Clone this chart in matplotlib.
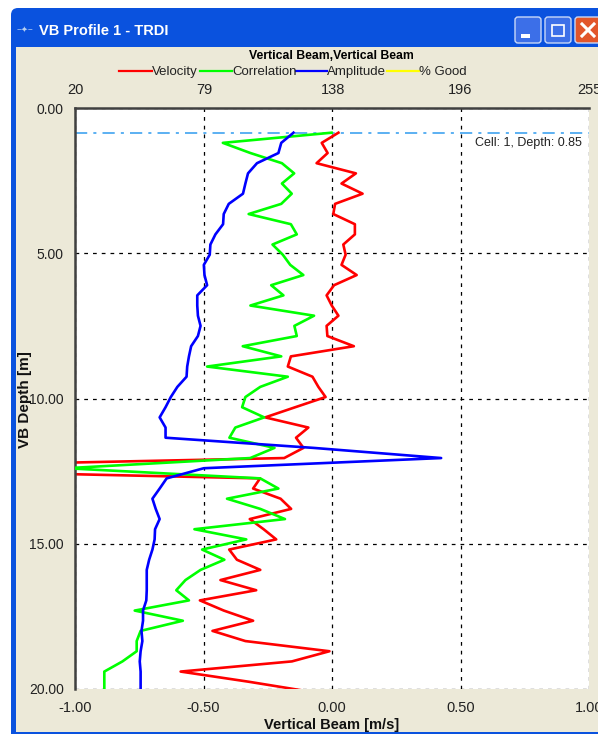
import matplotlib
matplotlib.use('Agg')
import matplotlib.pyplot as plt
from matplotlib.patches import FancyBboxPatch, Rectangle

plt.rcParams['font.family'] = ['Liberation Sans', 'DejaVu Sans']

# depth of each cell [m]
depth = [0.85, 1.20, 1.55, 1.90, 2.25, 2.60, 2.95, 3.30, 3.65, 4.00, 4.35, 4.70, 5.05, 5.40,
         5.75, 6.10, 6.45, 6.80, 7.15, 7.50, 7.85, 8.20, 8.55, 8.90, 9.25, 9.60, 9.95, 10.30,
         10.65, 11.00, 11.35, 11.70, 12.05, 12.40, 12.75, 13.10, 13.45, 13.80, 14.15, 14.50,
         14.85, 15.20, 15.55, 15.90, 16.25, 16.60, 16.95, 17.30, 17.65, 18.00, 18.35, 18.70,
         19.05, 19.40, 19.75, 20.10]

# m/s, bottom axis
velocity = [0.025, -0.04, -0.017, -0.06, 0.093, 0.037, 0.119, 0.012, 0.005, 0.089, 0.089, 0.044,
            0.053, 0.037, 0.096, 0.008, -0.021, -0.001, 0.025, -0.021, -0.018, 0.085, -0.16,
            -0.172, -0.076, -0.053, -0.025, -0.143, -0.26, -0.092, -0.14, -0.111, -0.186, -2.05,
            -0.28, -0.307, -0.2, -0.159, -0.32, -0.266, -0.217, -0.40, -0.37, -0.279, -0.434,
            -0.295, -0.514, -0.421, -0.307, -0.465, -0.337, -0.01, -0.156, -0.589, -0.324, -0.08]

# counts, top axis
correlation = [137.3, 87.6, 100.2, 114.6, 120.2, 114.6, 119.1, 114.3, 99.4, 118.7, 121.4, 110.3,
               115.0, 118.4, 124.4, 109.7, 115.3, 100.2, 129.3, 120.3, 121.4, 96.7, 114.3, 80.4,
               117.3, 104.7, 97.9, 96.4, 106.5, 93.3, 90.6, 111.2, 100.1, 16.0, 104.7, 113.0,
               89.5, 104.7, 116.0, 74.6, 98.3, 78.1, 88.3, 77.4, 70.5, 66.3, 72.1, 47.3, 69.3,
               50.0, 48.2, 48.2, 41.7, 33.4, 33.4, 33.4]

amplitude = [119.9, 114.3, 113.0, 103.2, 99.1, 97.9, 96.8, 90.3, 88.0, 87.7, 84.2, 81.9, 81.6,
             78.9, 79.2, 80.4, 75.9, 75.9, 76.2, 77.4, 76.2, 73.1, 72.1, 71.3, 71.0, 66.8, 63.8,
             61.4, 58.7, 61.4, 61.4, 129.0, 187.4, 78.9, 61.9, 58.7, 55.4, 56.9, 58.7, 56.6, 56.4,
             55.4, 53.9, 52.8, 52.8, 52.8, 52.6, 51.1, 51.1, 50.4, 50.8, 50.0, 49.6, 50.0, 50.0, 50.0]

x_ticks = [-1.0, -0.5, 0.0, 0.5, 1.0]
top_ticks = [20, 79, 138, 196, 255]
y_ticks = [0, 5, 10, 15, 20]
legend_names = ['Velocity', 'Correlation', 'Amplitude', '% Good']
legend_colors = ['#FF0000', '#00FF00', '#0000FF', '#FFFF00']

W, H = 598, 734
BEIGE = '#ECE9D8'
TXT = '#222222'
fig = plt.figure(figsize=(W / 100, H / 100), dpi=100, facecolor='white')

# window frame behind the chart
bg = fig.add_axes([0, 0, 1, 1], zorder=-1)
bg.set_xlim(0, W)
bg.set_ylim(H, 0)
bg.axis('off')
bg.add_patch(FancyBboxPatch((11, 8), 600, 740, boxstyle='round,pad=0,rounding_size=7', fc='#0A52DE', ec='none'))
bg.add_patch(Rectangle((16, 47), 590, 685, fc=BEIGE, ec='none'))
bg.text(39, 31, 'VB Profile 1 - TRDI', color='white', fontsize=10.5, fontweight='bold', va='center')
bg.text(17, 30, '\u2212\u2726\u2212', color='#B8D0F0', fontsize=6, va='center')
for bx, col in [(515, '#3C6FE8'), (545, '#3C6FE8'), (575, '#E2562B')]:
    bg.add_patch(FancyBboxPatch((bx, 17), 26, 26, boxstyle='round,pad=0,rounding_size=3', fc=col, ec='#C8D8F8', lw=1))
bg.add_patch(Rectangle((521, 34), 9, 3.5, fc='white', ec='none'))
bg.add_patch(Rectangle((552, 25), 12, 11, fc='none', ec='white', lw=1.2))
bg.plot([582, 594], [24, 36], color='white', lw=2.2)
bg.plot([582, 594], [36, 24], color='white', lw=2.2)

left, right, top, bottom = 75, 589, 108, 689
ax = fig.add_axes([left / W, 1 - bottom / H, (right - left) / W, (bottom - top) / H])
ax.set_xlim(-1, 1)
ax.set_ylim(20, 0)
ax.plot(velocity, depth, color='#FF0000', lw=1.9)
ax.axhline(depth[0], color='#2F9BEF', lw=1.1, ls=(0, (8, 4, 2, 4)), zorder=1)
ax.set_xticks(x_ticks)
ax.set_xticklabels(['%.2f' % v for v in x_ticks], fontsize=10.5, color=TXT)
ax.set_yticks(y_ticks)
ax.set_yticklabels(['%.2f' % v for v in y_ticks], fontsize=10, color=TXT)
ax.tick_params(length=0, pad=9)
ax.tick_params(axis='y', pad=8)
ax.grid(True, color='black', lw=0.9, ls=(0, (3, 4)))
ax.text(0.987, 0.94, 'Cell: 1, Depth: 0.85', transform=ax.transAxes, fontsize=9, ha='right', va='center', color=TXT)
for s in ['right', 'bottom']:
    ax.spines[s].set_visible(False)
ax.spines['top'].set_linewidth(1.8)
ax.spines['left'].set_linewidth(1.8)
ax.spines['top'].set_color('#404040')
ax.spines['left'].set_color('#404040')

ax2 = ax.twiny()
ax2.set_xlim(20, 255)
ax2.plot(correlation, depth, color='#00FF00', lw=1.9)
ax2.plot(amplitude, depth, color='#0000FF', lw=1.9)
ax2.set_xticks(top_ticks)
ax2.set_xticklabels(top_ticks, fontsize=10.5, color=TXT)
ax2.tick_params(length=0, pad=8)
for s in ax2.spines.values():
    s.set_visible(False)

# legend row: line then name, names overlap the line ends as in the original
leg_x = [(119, 152), (200, 232), (296, 327), (387, 419)]
for (x0, x1), name, col in zip(leg_x, legend_names, legend_colors):
    bg.plot([x0, x1], [71, 71], color=col, lw=1.6)
    bg.text(x1, 72, name, fontsize=9.5, color=TXT, va='center')

bg.text(331, 56, 'Vertical Beam,Vertical Beam', fontsize=8.8, fontweight='bold', ha='center', va='center', color='black')
bg.text(332, 725, 'Vertical Beam [m/s]', fontsize=10.5, fontweight='bold', ha='center', va='center', color='#111111')
bg.text(25, 400, 'VB Depth [m]', fontsize=11, fontweight='bold', rotation=90, ha='center', va='center', color='#111111')

plt.savefig('out.png', dpi=100)
